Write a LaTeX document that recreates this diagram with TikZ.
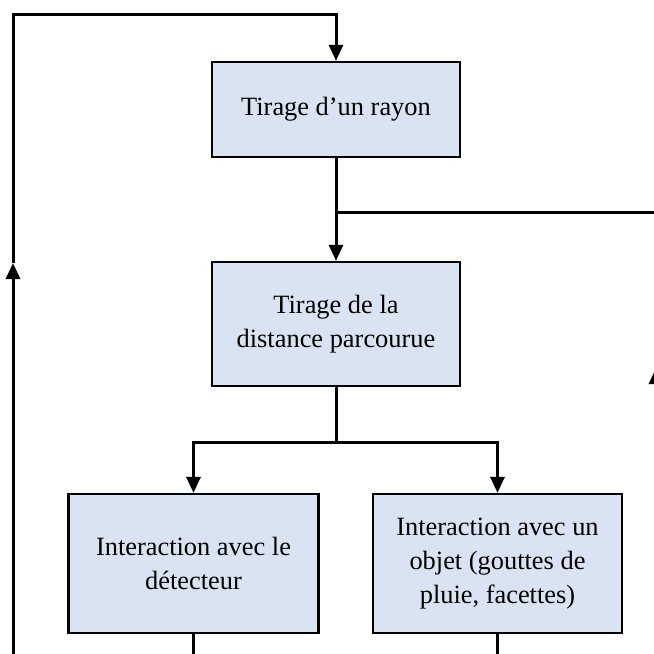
\documentclass[tikz,border=0pt]{standalone}
\usepackage{fontspec}
\setmainfont{Liberation Serif}
\usetikzlibrary{arrows.meta}
\definecolor{boxfill}{HTML}{DAE3F1}
\begin{document}
\begin{tikzpicture}[x=1pt,y=-1pt,
  stepbox/.style={draw=black, line width=2.3pt, fill=boxfill, align=center,
    font=\fontsize{26.4}{34}\selectfont, inner sep=0pt},
  conn/.style={line width=3pt},
  arr/.style={conn, -{Triangle[length=16pt,width=14pt]}}]
\useasboundingbox (0,0) rectangle (654,654);
\clip (0,0) rectangle (654,654);
\node[stepbox, minimum width=248pt, minimum height=95pt] (b1) at (336,109.5) {Tirage d’un rayon};
\node[stepbox, minimum width=248pt, minimum height=124pt] (b2) at (336,324) {Tirage de la\\distance parcourue};
\node[stepbox, minimum width=250pt, minimum height=139pt] (b3) at (193.5,563.5) {Interaction avec le\\détecteur};
\node[stepbox, minimum width=249pt, minimum height=139pt] (b4) at (497.5,563.5) {Interaction avec un\\objet (gouttes de\\pluie, facettes)};
% left loop
\coordinate (lb) at (13,660);
\coordinate (la) at (13,263);
\coordinate (lt) at (13,14);
\coordinate (tt) at (336,14);
\draw[arr] (lb) -- (la);
\draw[arr] (la) -- (lt) -- (tt) -- (b1.north);
% right loop
\coordinate (rb) at (656,660);
\coordinate (ra) at (656,368);
\coordinate (rt) at (656,212);
\coordinate (j1) at (336,212);
\draw[arr] (rb) -- (ra);
\draw[conn] (ra) -- (rt) -- (j1);
% main flow
\draw[arr] (b1.south) -- (b2.north);
\coordinate (s) at (336,442);
\draw[conn] (b2.south) -- (s);
\draw[arr] (s) -| (b3.north);
\draw[arr] (s) -| (b4.north);
% bottom exits
\coordinate (e3) at (193.5,660);
\coordinate (e4) at (497.5,660);
\draw[conn] (b3.south) -- (e3);
\draw[conn] (b4.south) -- (e4);
\end{tikzpicture}
\end{document}
